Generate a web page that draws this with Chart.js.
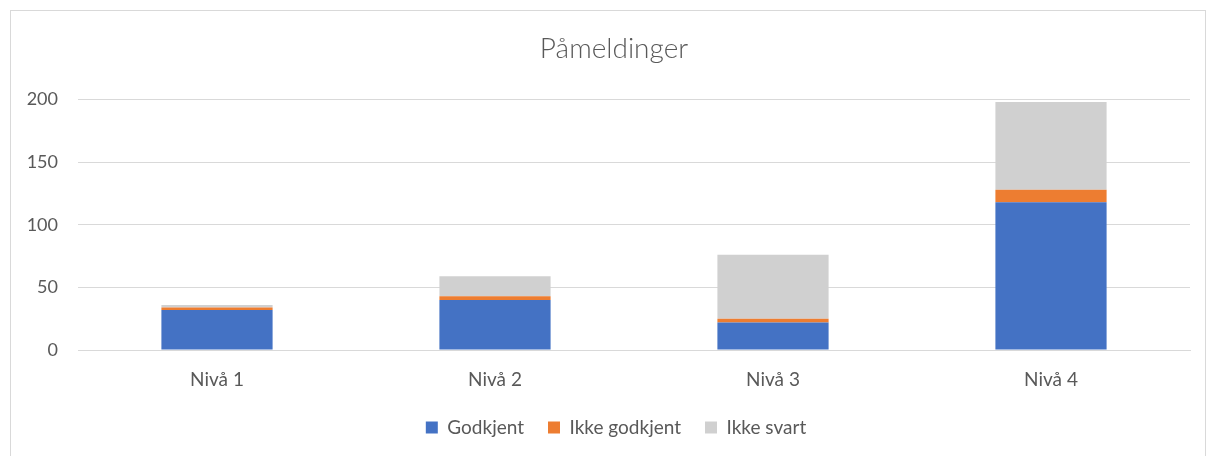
<!DOCTYPE html>
<html>
<head>
<meta charset="utf-8">
<script src="https://cdn.jsdelivr.net/npm/chart.js@4/dist/chart.umd.min.js"></script>
<style>
  html, body { margin: 0; padding: 0; background: #fff; }
  #wrap { position: relative; width: 1208px; height: 456px; }
  #frame { position: absolute; left: 10px; top: 10px; width: 1196px; height: 460px; border: 1px solid #d9d9d9; box-sizing: border-box; }
  canvas { position: absolute; left: 0; top: 0; }
</style>
</head>
<body>
<div id="wrap">
  <div id="frame"></div>
  <canvas id="chart" width="1208" height="456"></canvas>
</div>
<script>
const categories = ['Nivå 1', 'Nivå 2', 'Nivå 3', 'Nivå 4'];
const godkjent = [32, 40, 22, 118];
const ikkeGodkjent = [2, 3, 3, 10];
const ikkeSvart = [2, 16, 51, 70];
const yTicks = [0, 50, 100, 150, 200];

const textColor = '#595959';
const fontFamily = 'Lato, "Open Sans", sans-serif';

// title and legend sit centred on the whole frame, not on the plot
const shiftBlocks = {
    id: 'shiftBlocks',
    afterLayout(chart) {
        chart.titleBlock.left += 14;
        chart.titleBlock.right += 14;
        chart.legend.left += 16;
        chart.legend.right += 16;
    }
};

const canvas = document.getElementById('chart');
const chart = new Chart(canvas, {
    type: 'bar',
    data: {
        labels: categories,
        datasets: [
            { label: 'Godkjent', data: godkjent, backgroundColor: '#4472C4' },
            { label: 'Ikke godkjent', data: ikkeGodkjent, backgroundColor: '#ED7D31' },
            { label: 'Ikke svart', data: ikkeSvart, backgroundColor: '#D0D0D0' }
        ]
    },
    options: {
        responsive: false,
        animation: false,
        layout: { padding: { left: 10, right: 18, top: 10, bottom: 9 } },
        datasets: { bar: { categoryPercentage: 1, barPercentage: 0.4 } },
        plugins: {
            title: {
                display: true,
                text: 'Påmeldinger',
                color: textColor,
                font: { family: fontFamily, size: 28, weight: '300' },
                padding: { top: 22, bottom: 34 }
            },
            legend: {
                position: 'bottom',
                labels: {
                    color: textColor,
                    font: { family: fontFamily, size: 19 },
                    boxWidth: 12,
                    boxHeight: 12,
                    padding: 24
                }
            },
            tooltip: { enabled: false }
        },
        scales: {
            x: {
                stacked: true,
                grid: { display: false },
                border: { color: '#d9d9d9' },
                ticks: { color: textColor, font: { family: fontFamily, size: 19 }, padding: 10 },
                afterFit: s => { s.height = 44; }
            },
            y: {
                stacked: true,
                min: 0,
                max: 200,
                afterBuildTicks: s => { s.ticks = yTicks.map(v => ({ value: v })); },
                grid: { color: '#d9d9d9', drawTicks: false },
                border: { display: false },
                ticks: { color: textColor, font: { family: fontFamily, size: 18 }, padding: 20 },
                afterFit: s => { s.width = 68; }
            }
        }
    },
    plugins: [shiftBlocks]
});
</script>
</body>
</html>
